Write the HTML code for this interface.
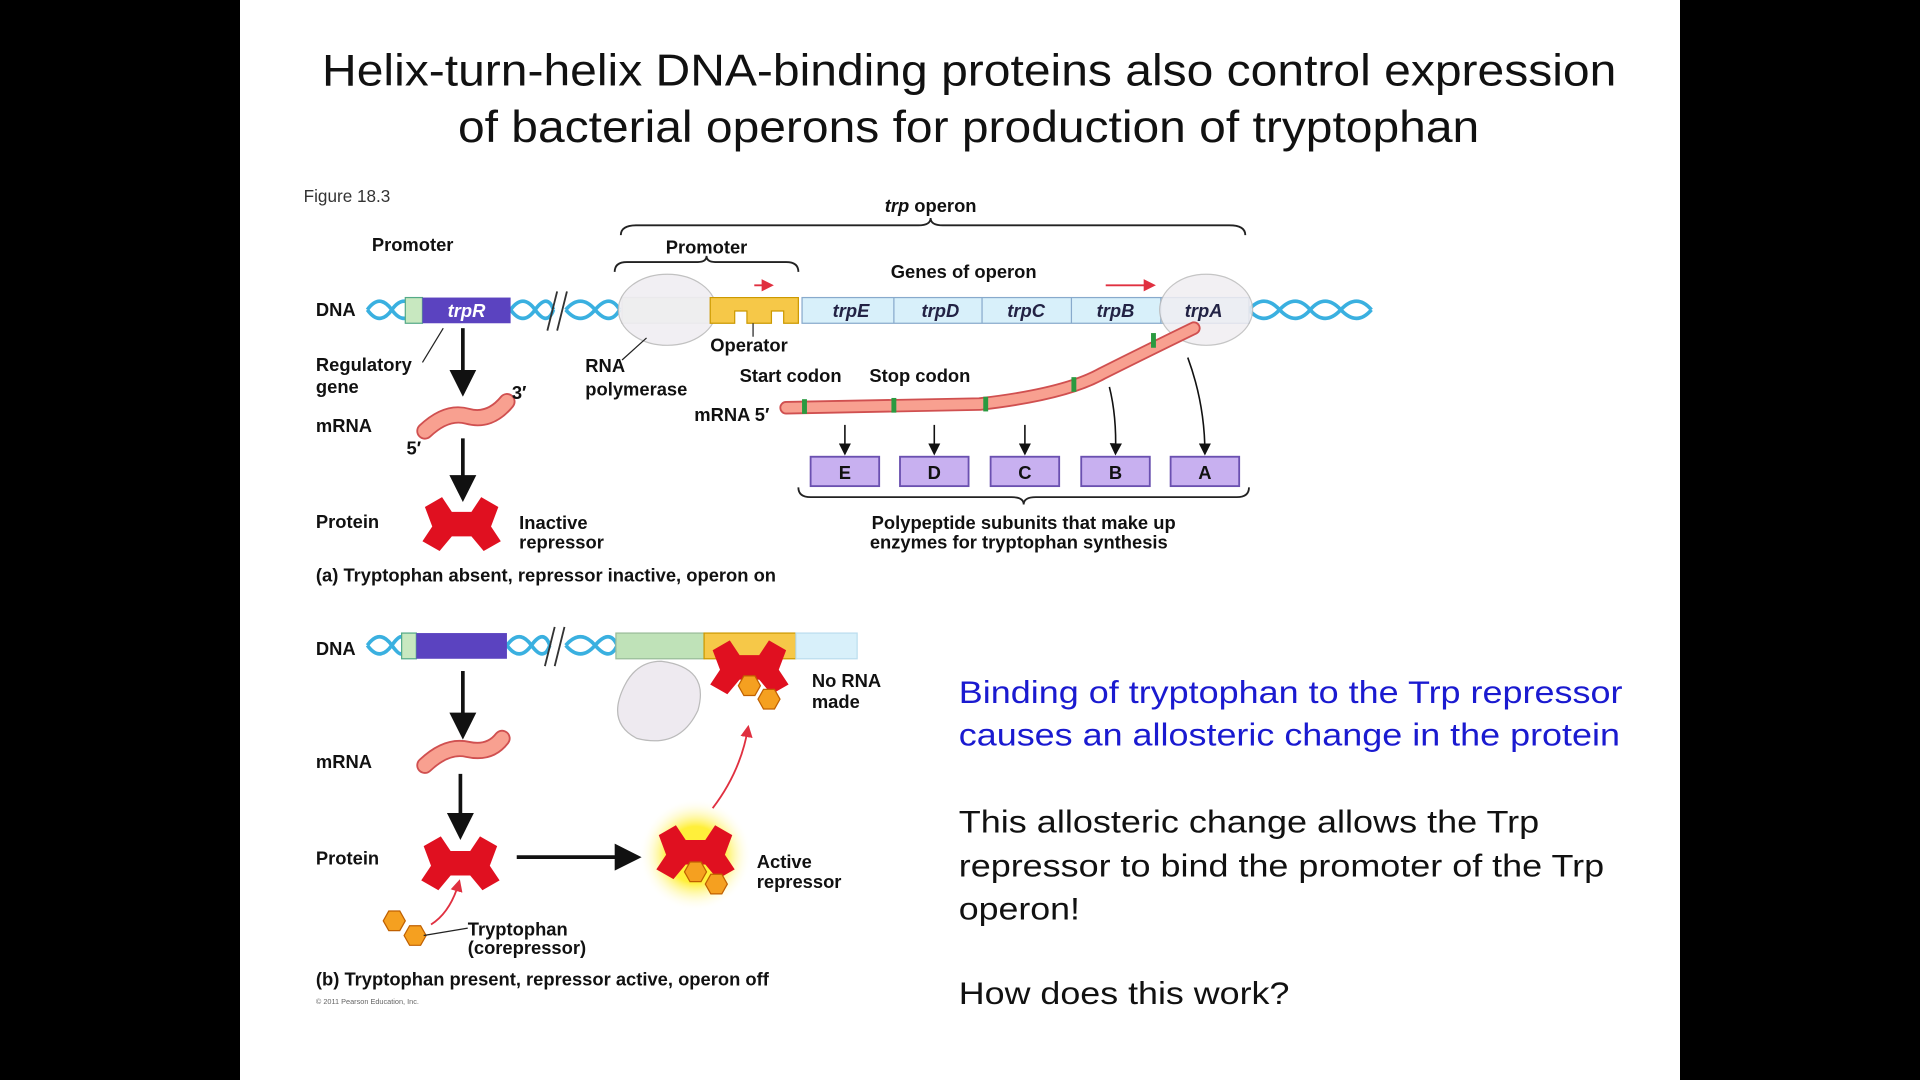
<!DOCTYPE html>
<html><head><meta charset="utf-8"><style>
html,body{margin:0;padding:0;background:#000;width:1920px;height:1080px;overflow:hidden}
svg{display:block}
text{font-family:"Liberation Sans",sans-serif}
.b{font-weight:bold;font-size:15px;fill:#111}
</style></head><body>
<svg width="1920" height="1080" viewBox="0 0 1568 882">
<defs>
<marker id="ah" markerUnits="userSpaceOnUse" markerWidth="10" markerHeight="10" refX="8" refY="5" orient="auto"><path d="M0,0 L10,5 L0,10 z" fill="#111"/></marker>
<marker id="ahb" markerUnits="userSpaceOnUse" markerWidth="22" markerHeight="22" refX="14" refY="11" orient="auto"><path d="M0,0 L22,11 L0,22 z" fill="#111"/></marker>
<marker id="ahr" markerUnits="userSpaceOnUse" markerWidth="10" markerHeight="10" refX="8" refY="5" orient="auto"><path d="M0,0 L10,5 L0,10 z" fill="#e03040"/></marker>
<radialGradient id="glow"><stop offset="0.5" stop-color="#ffef3a"/><stop offset="1" stop-color="#fff" stop-opacity="0"/></radialGradient>
<g id="rep"><path d="M-30,-14 L-16,-22 L-8,-10 L8,-10 L16,-22 L30,-14 L24,2 L32,14 L18,22 L8,10 L-8,10 L-18,22 L-32,14 L-24,2 Z" fill="#e01020"/></g>
<g id="hex"><polygon points="-9,0 -4.5,-8 4.5,-8 9,0 4.5,8 -4.5,8" fill="#f5a020" stroke="#c06000" stroke-width="1"/></g>
</defs>
<rect x="0" y="0" width="1568" height="882" fill="#000"/>
<rect x="196" y="0" width="1176" height="882" fill="#fff"/>

<g font-size="36" fill="#111">
<text x="263" y="70" textLength="1057" lengthAdjust="spacingAndGlyphs">Helix-turn-helix DNA-binding proteins also control expression</text>
<text x="374" y="116" textLength="834" lengthAdjust="spacingAndGlyphs">of bacterial operons for production of tryptophan</text>
</g>
<text x="248" y="165" font-size="14" fill="#333">Figure 18.3</text>

<!-- Part a -->
<g>
<text x="760" y="173" class="b" text-anchor="middle" font-weight="normal"><tspan font-style="italic">trp</tspan> operon</text>
<path d="M507,192 Q507,184 520,184 L750,184 Q760,184 760,178 Q760,184 770,184 L1004,184 Q1017,184 1017,192" fill="none" stroke="#222" stroke-width="1.5"/>
<text x="337" y="205" class="b" text-anchor="middle">Promoter</text>
<text x="577" y="207" class="b" text-anchor="middle">Promoter</text>
<path d="M502,222 Q502,214 512,214 L570,214 Q577,214 577,209 Q577,214 584,214 L642,214 Q652,214 652,222" fill="none" stroke="#222" stroke-width="1.5"/>
<text x="787" y="227" class="b" text-anchor="middle">Genes of operon</text>
<text x="258" y="258" class="b">DNA</text>
<g stroke="#3ab0e0" stroke-width="3" fill="none">
<path d="M300,253 q10,-14 20,0 t20,0 M417,253 q10,-14 20,0 t15,0 M462,253 q12,-14 24,0 t20,0 M1020,253 q12,-14 25,0 t25,0 t25,0 t25,0"/>
<path d="M300,253 q10,14 20,0 t20,0 M417,253 q10,14 20,0 t15,0 M462,253 q12,14 24,0 t20,0 M1020,253 q12,14 25,0 t25,0 t25,0 t25,0"/>
</g>
<path d="M447,270 L455,238 M455,270 L463,238" stroke="#333" stroke-width="1.5"/>
<rect x="331" y="243" width="14" height="21" fill="#c8e8c0" stroke="#5a8"/>
<rect x="345" y="243" width="72" height="21" fill="#5b43c0"/>
<text x="381" y="259" fill="#fff" font-size="15" font-weight="bold" font-style="italic" text-anchor="middle">trpR</text>
<rect x="508" y="243" width="72" height="21" fill="#e2f2dc" stroke="#bbb"/>
<ellipse cx="545" cy="253" rx="40" ry="29" fill="#f0eef2" stroke="#bbb" opacity="0.9"/>
<path d="M580,243 H652 V264 H640 V254 H630 V264 H610 V254 H600 V264 H580 Z" fill="#f6c848" stroke="#c90"/>
<rect x="655" y="243" width="365" height="21" fill="#d8f0fa" stroke="#8ac"/>
<g stroke="#8ac"><line x1="730" y1="243" x2="730" y2="264"/><line x1="802" y1="243" x2="802" y2="264"/><line x1="875" y1="243" x2="875" y2="264"/><line x1="948" y1="243" x2="948" y2="264"/></g>
<g font-size="15" font-weight="bold" font-style="italic" fill="#224" text-anchor="middle">
<text x="695" y="259">trpE</text><text x="768" y="259">trpD</text><text x="838" y="259">trpC</text><text x="911" y="259">trpB</text></g>
<ellipse cx="985" cy="253" rx="38" ry="29" fill="#f0eef2" stroke="#bbb" opacity="0.85"/>
<text x="983" y="259" font-size="15" font-weight="bold" font-style="italic" fill="#224" text-anchor="middle">trpA</text>
<line x1="616" y1="233" x2="630" y2="233" stroke="#e03040" stroke-width="1.5" marker-end="url(#ahr)"/>
<line x1="903" y1="233" x2="942" y2="233" stroke="#e03040" stroke-width="1.5" marker-end="url(#ahr)"/>
<text x="258" y="303" class="b">Regulatory</text><text x="258" y="321" class="b">gene</text>
<line x1="345" y1="296" x2="362" y2="268" stroke="#222"/>
<line x1="378" y1="268" x2="378" y2="316" stroke="#111" stroke-width="3" marker-end="url(#ahb)"/>
<text x="258" y="353" class="b">mRNA</text>
<path d="M347,352 Q365,335 382,340 Q400,345 414,328" stroke="#d05050" stroke-width="14" fill="none" stroke-linecap="round"/>
<path d="M347,352 Q365,335 382,340 Q400,345 414,328" stroke="#f8a090" stroke-width="11" fill="none" stroke-linecap="round"/>
<text x="418" y="326" class="b">3′</text><text x="332" y="371" class="b">5′</text>
<line x1="378" y1="358" x2="378" y2="402" stroke="#111" stroke-width="3" marker-end="url(#ahb)"/>
<text x="258" y="431" class="b">Protein</text>
<use href="#rep" x="377" y="428"/>
<text x="424" y="432" class="b">Inactive</text><text x="424" y="448" class="b">repressor</text>
<text x="258" y="475" class="b">(a) Tryptophan absent, repressor inactive, operon on</text>
<text x="478" y="304" class="b">RNA</text><text x="478" y="323" class="b">polymerase</text>
<line x1="508" y1="294" x2="528" y2="276" stroke="#222"/>
<text x="580" y="287" class="b">Operator</text>
<line x1="615" y1="264" x2="615" y2="275" stroke="#222"/>
<text x="604" y="312" class="b">Start codon</text><text x="710" y="312" class="b">Stop codon</text>
<text x="567" y="344" class="b">mRNA 5′</text>
<path d="M642,333 L800,330 Q870,322 900,305 Q940,285 975,268" stroke="#d05050" stroke-width="11" fill="none" stroke-linecap="round"/>
<path d="M642,333 L800,330 Q870,322 900,305 Q940,285 975,268" stroke="#f8a090" stroke-width="8" fill="none" stroke-linecap="round"/>
<g fill="#2a9a40"><rect x="655" y="326" width="4" height="12"/><rect x="728" y="325" width="4" height="12"/><rect x="803" y="324" width="4" height="12"/><rect x="875" y="308" width="4" height="12"/><rect x="940" y="272" width="4" height="12"/></g>
<g stroke="#111" stroke-width="1.3">
<line x1="690" y1="347" x2="690" y2="370" marker-end="url(#ah)"/>
<line x1="763" y1="347" x2="763" y2="370" marker-end="url(#ah)"/>
<line x1="837" y1="347" x2="837" y2="370" marker-end="url(#ah)"/>
<path d="M906,316 Q912,340 911,370" fill="none" marker-end="url(#ah)"/>
<path d="M970,292 Q984,330 984,370" fill="none" marker-end="url(#ah)"/>
</g>
<g fill="#c8b0f0" stroke="#6a50b0" stroke-width="1.5">
<rect x="662" y="373" width="56" height="24"/><rect x="735" y="373" width="56" height="24"/><rect x="809" y="373" width="56" height="24"/><rect x="883" y="373" width="56" height="24"/><rect x="956" y="373" width="56" height="24"/></g>
<text x="690" y="391" class="b" text-anchor="middle">E</text><text x="763" y="391" class="b" text-anchor="middle">D</text><text x="837" y="391" class="b" text-anchor="middle">C</text><text x="911" y="391" class="b" text-anchor="middle">B</text><text x="984" y="391" class="b" text-anchor="middle">A</text>
<path d="M652,398 Q652,406 662,406 L826,406 Q836,406 836,412 Q836,406 846,406 L1010,406 Q1020,406 1020,398" fill="none" stroke="#222" stroke-width="1.5"/>
<text x="836" y="432" class="b" text-anchor="middle">Polypeptide subunits that make up</text>
<text x="832" y="448" class="b" text-anchor="middle">enzymes for tryptophan synthesis</text>
</g>

<!-- Part b -->
<g>
<text x="258" y="535" class="b">DNA</text>
<g stroke="#3ab0e0" stroke-width="3" fill="none">
<path d="M300,527 q10,-14 20,0 t10,0 M414,527 q10,-14 20,0 t15,0 M462,527 q12,-14 24,0 t18,0"/>
<path d="M300,527 q10,14 20,0 t10,0 M414,527 q10,14 20,0 t15,0 M462,527 q12,14 24,0 t18,0"/>
</g>
<path d="M445,544 L453,512 M453,544 L461,512" stroke="#333" stroke-width="1.5"/>
<rect x="328" y="517" width="12" height="21" fill="#c8e8c0" stroke="#5a8"/>
<rect x="340" y="517" width="74" height="21" fill="#5b43c0"/>
<rect x="503" y="517" width="72" height="21" fill="#bfe2b8" stroke="#9b9"/>
<rect x="575" y="517" width="75" height="21" fill="#f6c848" stroke="#c90"/>
<rect x="650" y="517" width="50" height="21" fill="#d8f0fa" stroke="#bde"/>
<path d="M540,540 Q580,545 570,580 Q555,612 520,603 Q495,590 510,560 Q520,540 540,540Z" fill="#eeeaf0" stroke="#bbb"/>
<use href="#rep" x="612" y="545"/>
<use href="#hex" x="612" y="560"/><use href="#hex" x="628" y="571"/>
<text x="663" y="561" class="b">No RNA</text><text x="663" y="578" class="b">made</text>
<line x1="378" y1="548" x2="378" y2="596" stroke="#111" stroke-width="3" marker-end="url(#ahb)"/>
<text x="258" y="627" class="b">mRNA</text>
<path d="M347,625 Q365,608 382,612 Q400,616 410,603" stroke="#d05050" stroke-width="14" fill="none" stroke-linecap="round"/>
<path d="M347,625 Q365,608 382,612 Q400,616 410,603" stroke="#f8a090" stroke-width="11" fill="none" stroke-linecap="round"/>
<line x1="376" y1="632" x2="376" y2="678" stroke="#111" stroke-width="3" marker-end="url(#ahb)"/>
<text x="258" y="706" class="b">Protein</text>
<use href="#rep" x="376" y="705"/>
<line x1="422" y1="700" x2="516" y2="700" stroke="#111" stroke-width="3" marker-end="url(#ahb)"/>
<circle cx="568" cy="698" r="46" fill="url(#glow)"/>
<use href="#rep" x="568" y="696"/>
<use href="#hex" x="568" y="712"/><use href="#hex" x="585" y="722"/>
<text x="618" y="709" class="b">Active</text><text x="618" y="725" class="b">repressor</text>
<path d="M582,660 Q605,630 611,594" stroke="#e03040" stroke-width="1.5" fill="none" marker-end="url(#ahr)"/>
<use href="#hex" x="322" y="752"/><use href="#hex" x="339" y="764"/>
<path d="M352,755 Q368,745 375,720" stroke="#e03040" stroke-width="1.5" fill="none" marker-end="url(#ahr)"/>
<line x1="346" y1="764" x2="382" y2="758" stroke="#222"/>
<text x="382" y="764" class="b">Tryptophan</text><text x="382" y="779" class="b">(corepressor)</text>
<text x="258" y="805" class="b">(b) Tryptophan present, repressor active, operon off</text>
<text x="258" y="820" font-size="6" fill="#666">© 2011 Pearson Education, Inc.</text>
</g>

<g font-size="26">
<text x="783" y="574" fill="#1a1ad0" textLength="542" lengthAdjust="spacingAndGlyphs">Binding of tryptophan to the Trp repressor</text>
<text x="783" y="609" fill="#1a1ad0" textLength="540" lengthAdjust="spacingAndGlyphs">causes an allosteric change in the protein</text>
<text x="783" y="680" fill="#111" textLength="474" lengthAdjust="spacingAndGlyphs">This allosteric change allows the Trp</text>
<text x="783" y="716" fill="#111" textLength="527" lengthAdjust="spacingAndGlyphs">repressor to bind the promoter of the Trp</text>
<text x="783" y="751" fill="#111" textLength="99" lengthAdjust="spacingAndGlyphs">operon!</text>
<text x="783" y="820" fill="#111" textLength="270" lengthAdjust="spacingAndGlyphs">How does this work?</text>
</g>
</svg>
</body></html>
